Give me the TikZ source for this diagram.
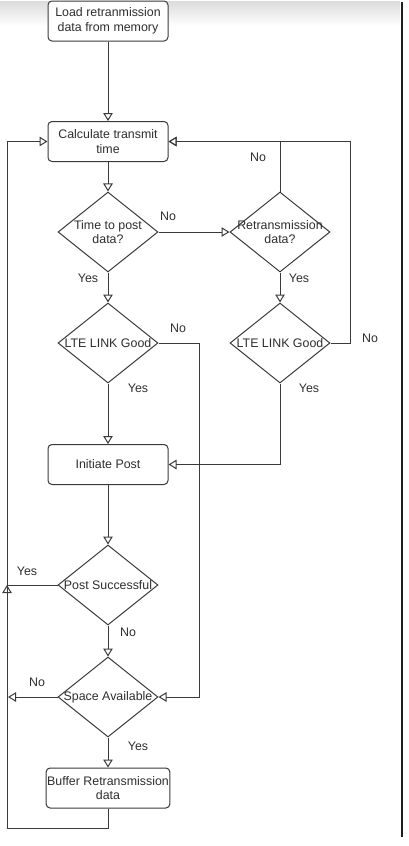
\documentclass[tikz,border=0pt]{standalone}
\usepackage{fontspec}
\setmainfont{Liberation Sans}
\usetikzlibrary{arrows.meta,shapes.geometric,calc}
\definecolor{ln}{HTML}{3A3A3A}
\definecolor{tx}{HTML}{2E2E2E}
\begin{document}
\begin{tikzpicture}[x=1pt,y=-1pt,
  every node/.style={font=\fontsize{12.4}{14.8}\selectfont, text=tx},
  proc/.style={draw=ln, line width=1pt, rounded corners=4pt, fill=white, minimum width=120pt, minimum height=40pt, align=center, inner sep=1pt},
  dia/.style={draw=ln, line width=1pt, diamond, fill=white, minimum width=100pt, minimum height=80pt, inner sep=0pt},
  dtext/.style={align=center, inner sep=0pt},
  lbl/.style={inner sep=0pt},
  flow/.style={draw=ln, line width=1pt, -{Triangle[open, length=8pt, width=9.5pt]}},
  plain/.style={draw=ln, line width=1pt}
]
\useasboundingbox (0,0) rectangle (408,846);
% screenshot frame
\shade[top color=black!14, bottom color=white] (0,1) rectangle (400,26);
\fill[black!88] (400.5,2) rectangle (402.5,837);

% nodes
\node[proc] (b1) at (108,21) {Load retranmission\\data from memory};
\node[proc] (b2) at (108,141.5) {Calculate transmit\\time};
\node[dia] (d1) at (108,232) {};
\node[dtext] at (d1) {Time to post\\data?};
\node[dia] (d2) at (280,232) {};
\node[dtext] at (d2) {Retransmission\\data?};
\node[dia] (d3) at (108,343) {};
\node[dtext] at (d3) {LTE LINK Good};
\node[dia] (d4) at (280,343) {};
\node[dtext] at (d4) {LTE LINK Good};
\node[proc] (b3) at (108,464.5) {Initiate Post};
\node[dia] (d5) at (108,585) {};
\node[dtext] at (d5) {Post Successful};
\node[dia] (d6) at (108,697) {};
\node[dtext] at (d6) {Space Available};
\node[proc] (b4) at (108,788) {Buffer Retransmission\\data};

% helper coordinates
\coordinate (r1) at (350,141.5);
\coordinate (m1) at (199,343);
\coordinate (lp) at (7,828);
\coordinate (yup) at (7,600);
\coordinate (ytip) at (7,585);
\coordinate (nol) at (8,697);

% connectors
\draw[flow] (b1) -- (b2);
\draw[flow] (b2) -- (d1);
\draw[flow] (d1.east) -- (d2.west);
\draw[flow] (d2.north) |- (b2.east);
\draw[flow] (d4.east) -| (r1) -- (b2.east);
\draw[flow] (d1) -- (d3);
\draw[flow] (d2) -- (d4);
\draw[flow] (d3.east) -| (m1) |- (d6.east);
\draw[flow] (d3) -- (b3);
\draw[flow] (d4.south) |- (b3.east);
\draw[flow] (b3) -- (d5);
\draw[plain] (d5.west) -- (ytip);
\draw[flow] (yup) -- (ytip);
\draw[flow] (d5) -- (d6);
\draw[flow] (d6.west) -- (nol);
\draw[flow] (d6) -- (b4);
\draw[flow] (b4.south) |- (lp) |- (b2.west);

% labels
\node[lbl] at (168,216) {No};
\node[lbl] at (258,157) {No};
\node[lbl] at (88,278) {Yes};
\node[lbl] at (299,278) {Yes};
\node[lbl] at (178,328) {No};
\node[lbl] at (370,338) {No};
\node[lbl] at (138,388) {Yes};
\node[lbl] at (309,388) {Yes};
\node[lbl] at (27,571) {Yes};
\node[lbl] at (128,632) {No};
\node[lbl] at (37,682) {No};
\node[lbl] at (138,746) {Yes};
\end{tikzpicture}
\end{document}
